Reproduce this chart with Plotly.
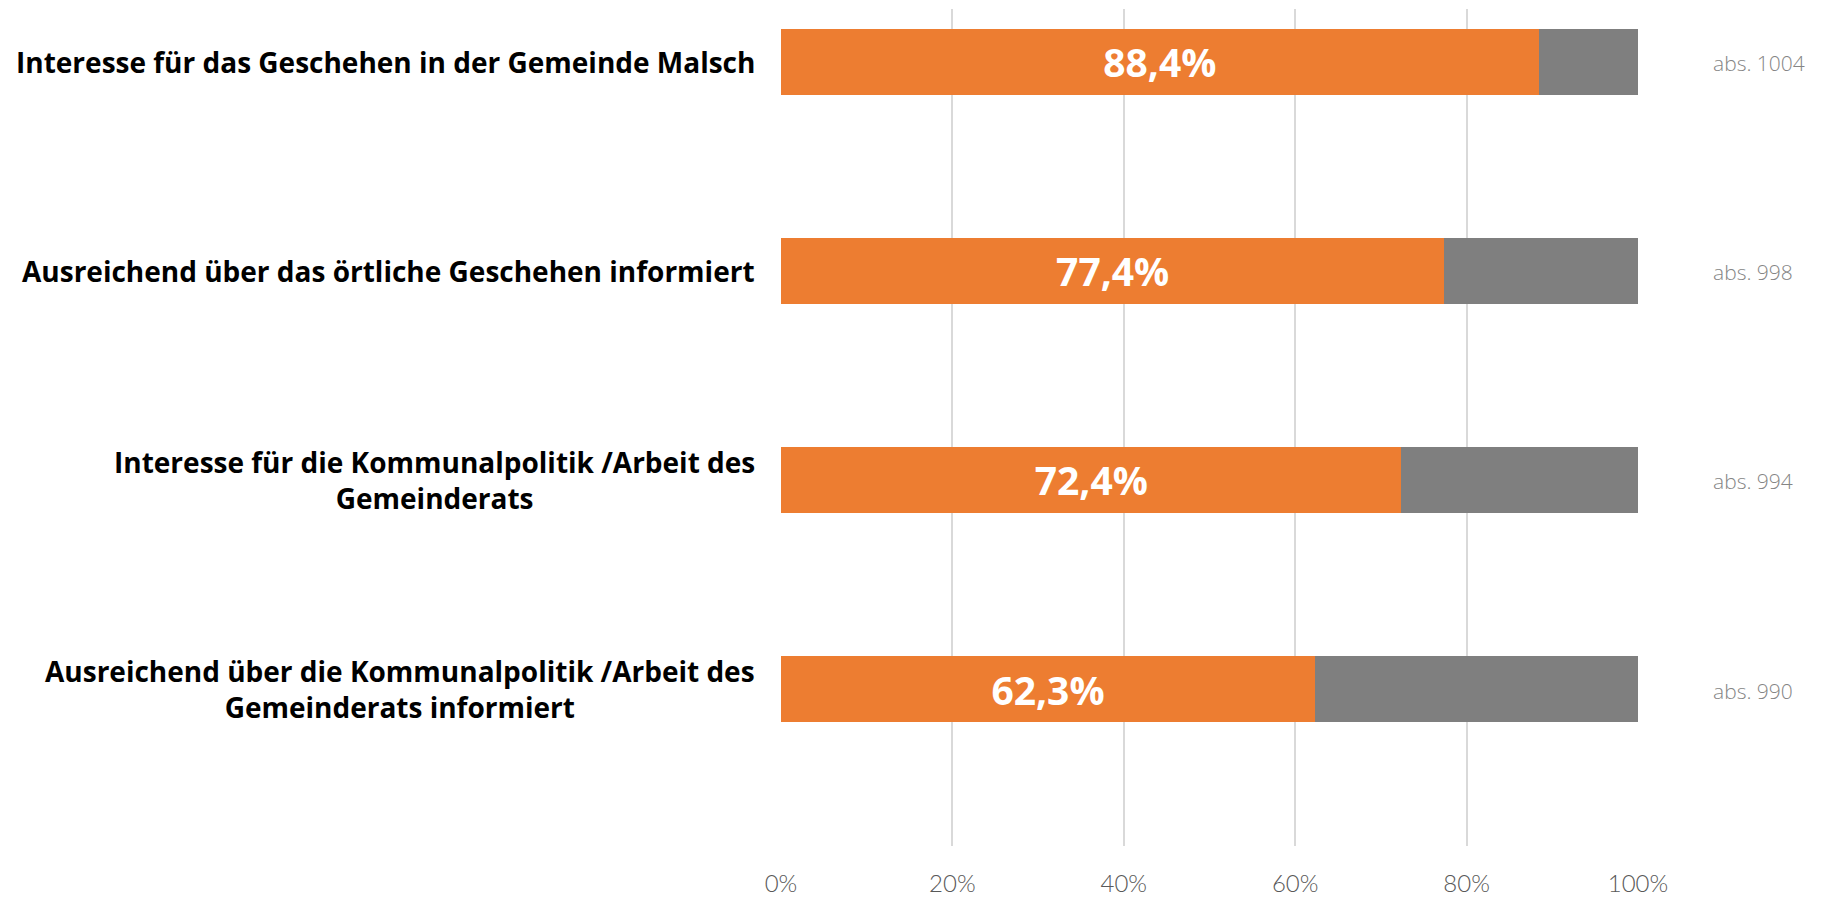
import plotly.graph_objects as go

categories = [
    "Interesse für das Geschehen in der Gemeinde Malsch",
    "Ausreichend über das örtliche Geschehen informiert",
    "Interesse für die Kommunalpolitik /Arbeit des<br>Gemeinderats",
    "Ausreichend über die Kommunalpolitik /Arbeit des<br>Gemeinderats informiert",
]
yes_share = [88.4, 77.4, 72.4, 62.3]
no_share = [100 - v for v in yes_share]
abs_counts = [1004, 998, 994, 990]
x_ticks = [0, 20, 40, 60, 80, 100]

ORANGE = "#ED7D31"
GREY = "#7F7F7F"

pos = list(range(len(categories)))

fig = go.Figure()
fig.add_trace(
    go.Bar(
        y=pos,
        x=yes_share,
        orientation="h",
        marker=dict(color=ORANGE, line=dict(width=0)),
        width=0.314,
        text=[f"{v:.1f}%".replace(".", ",") for v in yes_share],
        textposition="inside",
        insidetextanchor="middle",
        textfont=dict(family="Open Sans", size=39, color="white", weight="bold"),
        showlegend=False,
    )
)
fig.add_trace(
    go.Bar(
        y=pos,
        x=no_share,
        orientation="h",
        marker=dict(color=GREY, line=dict(width=0)),
        width=0.314,
        showlegend=False,
    )
)

# category labels, right-aligned block with centered lines
for p, cat in zip(pos, categories):
    fig.add_annotation(
        x=-0.028, xref="paper", y=p, yref="y",
        text=cat, showarrow=False,
        xanchor="right", yanchor="middle", align="center",
        font=dict(family="Open Sans", size=28, color="black", weight="bold"),
    )

# absolute counts on the right
for p, n in zip(pos, abs_counts):
    fig.add_annotation(
        x=1.085, xref="paper", y=p + 0.007, yref="y",
        text=f"abs. {n}", showarrow=False,
        xanchor="left", yanchor="middle",
        font=dict(family="Open Sans", size=21, color="#858585", weight=300),
    )

fig.update_layout(
    barmode="stack",
    width=1816,
    height=890,
    margin=dict(l=773, r=186, t=1, b=47),
    plot_bgcolor="white",
    paper_bgcolor="white",
    xaxis=dict(
        range=[0, 100],
        tickvals=x_ticks,
        ticktext=[f"{t}%" for t in x_ticks],
        showgrid=True,
        gridcolor="#D9D9D9",
        gridwidth=1.5,
        zeroline=False,
        showline=False,
        tickfont=dict(family="Lato", size=24, color="#595959", weight=300),
        ticklabelstandoff=21,
    ),
    yaxis=dict(
        range=[3.75, -0.252],
        showticklabels=False,
        showgrid=False,
        zeroline=False,
    ),
)

fig.write_html("out.html")
